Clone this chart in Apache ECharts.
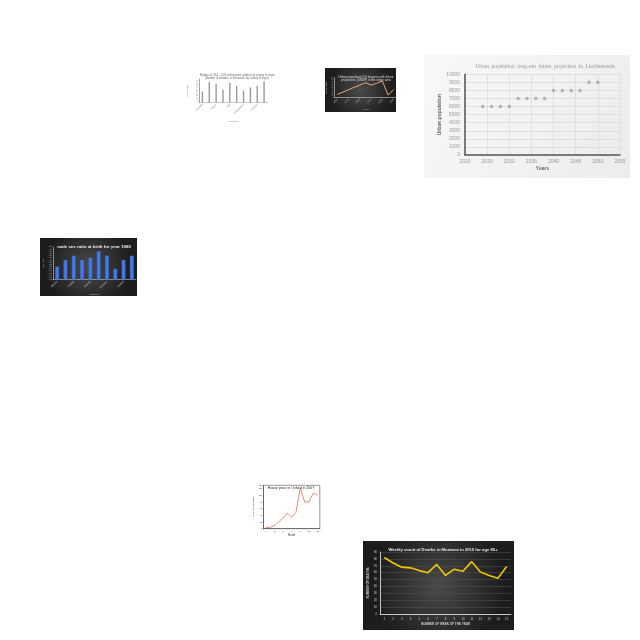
<!DOCTYPE html>
<html><head><meta charset="utf-8">
<script src="https://cdn.jsdelivr.net/npm/echarts@6/dist/echarts.min.js"></script>
<style>html,body{margin:0;padding:0;background:#fff}#c{width:640px;height:640px}</style>
</head><body><div id="c"></div>
<script>
// ---- data ----
const studCountries = ["Australia","Canada","France","Germany","Italy","Japan","Netherlands","Spain","Sweden","USA"];
const studValues = [33, 61, 55, 38, 58, 50, 36, 45, 50, 63];

const urbYearsCat = ["1950","1960","1970","1980","1990","2000","2010","2020","2030","2040","2050"];
const urbGrowth = [17, 28, 40, 52, 63, 75, 63, 72, 83, 13, 40];

const lieYears = [2024,2026,2028,2030,2032,2034,2036,2038,2040,2042,2044,2046,2048,2050];
const liePop = [6000,6000,6000,6000,7000,7000,7000,7000,8000,8000,8000,8000,9000,9000];

const sexCountries = ["Albania","Belgium","Croatia","Denmark","Estonia","Finland","Germany","Hungary","Iceland","Ireland"];
const sexRatio = [1.01,1.04,1.06,1.04,1.05,1.08,1.06,1.00,1.04,1.06];

const houseMonths = ["1","2","3","4","5","6","7","8","9","10","11","12","13"];
const housePrice = [4,4,9,20,32,47,34,49,122,80,80,107,100];

const weeks = ["1","2","3","4","5","6","7","8","9","10","11","12","13","14","15"];
const deaths = [82,74,68,67,63,60,72,56,65,62,76,61,56,52,69];

// ---- chart ----
const chart = echarts.init(document.getElementById('c'), null, {renderer:'canvas'});
const dark = {type:'radial',x:0.5,y:0.5,r:0.75,colorStops:[{offset:0,color:'#4a4a4a'},{offset:1,color:'#1c1c1c'}]};
const tinyLbl = (c,s)=>({color:c,fontSize:s,fontFamily:'Liberation Sans'});
const plain = v=>String(v);

chart.setOption({
  animation:false,
  graphic:[
    {type:'rect',z:-10,shape:{x:325,y:68,width:71,height:44},style:{fill:dark}},
    {type:'rect',z:-10,shape:{x:424,y:55,width:206,height:123},style:{fill:{type:'linear',x:0,y:0,x2:1,y2:1,colorStops:[{offset:0,color:'#f8f8f8'},{offset:1,color:'#ececec'}]}}},
    {type:'rect',z:-10,shape:{x:40,y:238,width:97,height:58},style:{fill:dark}},
    {type:'rect',z:-10,shape:{x:363,y:541,width:151,height:89},style:{fill:dark}}
  ],
  title:[
    {text:'Number of 2015 - 2016 international students by country of origin\n(Number of students, in thousands, by country of origin)',left:232,top:69,textAlign:'center',textStyle:{fontSize:2.6,fontWeight:'normal',color:'#666',lineHeight:3}},
    {text:'Urban population (%) long-run with future\nprojections (UNDP) in the urban area',left:361,top:70,textAlign:'center',textStyle:{fontSize:3,fontWeight:'normal',color:'#ddd',lineHeight:3.4}},
    {text:'Urban  population  long-run  future  projection  in  Liechtenstein',left:540,top:59,textAlign:'center',textStyle:{fontSize:5.4,fontWeight:'normal',color:'#999',fontFamily:'Liberation Serif'}},
    {text:'male sex ratio at birth for year 1980',left:89,top:239.5,textAlign:'center',textStyle:{fontSize:4.4,fontWeight:'bold',color:'#eee'}},
    {text:'House price in Oxford in 2007',left:286,top:481,textAlign:'center',textStyle:{fontSize:3.5,fontWeight:'normal',color:'#222'}},
    {text:'Weekly count of Deaths in Montana in 2015 for age 85+',left:438,top:542.5,textAlign:'center',textStyle:{fontSize:4.2,fontWeight:'bold',color:'#e8e8e8'}}
  ],
  grid:[
    {left:199,top:79,width:68.5,height:23.7},
    {left:334.5,top:77.7,width:62,height:20},
    {left:465,top:74.3,width:155,height:80.7},
    {left:53,top:247,width:83,height:32.7},
    {left:263.5,top:485.3,width:56.3,height:43.4,show:true,borderColor:'#333',borderWidth:0.5},
    {left:380,top:552,width:131,height:62}
  ],
  xAxis:[
    {gridIndex:0,type:'category',data:studCountries,name:'Countries',nameLocation:'middle',nameGap:17,nameTextStyle:tinyLbl('#888',2.5),
      axisLine:{lineStyle:{color:'#999',width:0.5}},axisTick:{show:false},axisLabel:Object.assign(tinyLbl('#888',2.4),{rotate:45,margin:1.5})},
    {gridIndex:1,type:'category',data:urbYearsCat,name:'Years',nameLocation:'middle',nameGap:10,nameTextStyle:tinyLbl('#bbb',2.5),
      axisLine:{lineStyle:{color:'#ccc',width:0.6}},axisTick:{show:false},axisLabel:Object.assign(tinyLbl('#bbb',2.4),{rotate:45,margin:1.5})},
    {gridIndex:2,type:'value',min:2020,max:2055,interval:5,name:'Years',nameLocation:'middle',nameGap:11,nameTextStyle:Object.assign(tinyLbl('#666',5),{fontWeight:'bold'}),
      axisLine:{lineStyle:{color:'#555',width:1.5}},axisTick:{show:false},axisLabel:Object.assign(tinyLbl('#999',5),{margin:4,formatter:plain}),
      splitLine:{show:true,lineStyle:{color:'#d8d8d8',width:0.7}}},
    {gridIndex:3,type:'category',data:sexCountries,name:'countries',nameLocation:'middle',nameGap:12,nameTextStyle:tinyLbl('#bbb',2.5),
      axisLine:{lineStyle:{color:'#ccc',width:0.6}},axisTick:{show:false},axisLabel:Object.assign(tinyLbl('#ccc',2.5),{rotate:45,margin:1.5})},
    {gridIndex:4,type:'category',data:houseMonths,name:'Month',nameLocation:'middle',nameGap:5.5,nameTextStyle:tinyLbl('#333',2.6),
      axisLine:{lineStyle:{color:'#333',width:0.5}},axisTick:{length:1,lineStyle:{color:'#333',width:0.4}},axisLabel:Object.assign(tinyLbl('#333',2.2),{margin:1.5})},
    {gridIndex:5,type:'category',data:weeks,name:'NUMBER OF WEEK OF THE YEAR',nameLocation:'middle',nameGap:9,nameTextStyle:Object.assign(tinyLbl('#ccc',3),{fontWeight:'bold'}),
      axisLine:{lineStyle:{color:'#eee',width:0.8}},axisTick:{show:false},axisLabel:Object.assign(tinyLbl('#ccc',3),{margin:3.5})}
  ],
  yAxis:[
    {gridIndex:0,type:'value',min:0,max:70,interval:5,name:'Thousands',nameLocation:'middle',nameGap:11,nameTextStyle:tinyLbl('#888',2.4),
      axisLine:{show:true,lineStyle:{color:'#666',width:0.6}},axisTick:{show:false},splitLine:{show:false},axisLabel:Object.assign(tinyLbl('#888',1.6),{margin:1})},
    {gridIndex:1,type:'value',min:0,max:100,interval:10,name:'Percentage',nameLocation:'middle',nameGap:7,nameTextStyle:tinyLbl('#bbb',2.4),
      axisLine:{show:true,lineStyle:{color:'#ccc',width:0.6}},axisTick:{show:false},splitLine:{show:false},axisLabel:Object.assign(tinyLbl('#bbb',1.6),{margin:1})},
    {gridIndex:2,type:'value',min:0,max:10000,interval:1000,name:'Urban population',nameLocation:'middle',nameGap:19,nameTextStyle:Object.assign(tinyLbl('#666',5),{fontWeight:'bold'}),
      axisLine:{show:true,lineStyle:{color:'#555',width:1.5}},axisTick:{show:false},axisLabel:Object.assign(tinyLbl('#999',5),{margin:5,formatter:plain}),
      splitLine:{show:true,lineStyle:{color:'#d8d8d8',width:0.7}}},
    {gridIndex:3,type:'value',min:0.95,max:1.10,interval:0.01,name:'sex ratio',nameLocation:'middle',nameGap:9,nameTextStyle:tinyLbl('#bbb',2.4),
      axisLine:{show:true,lineStyle:{color:'#ccc',width:0.6}},axisTick:{show:false},splitLine:{show:false},axisLabel:Object.assign(tinyLbl('#bbb',1.7),{margin:1,formatter:v=>v.toFixed(2)})},
    {gridIndex:4,type:'value',min:0,max:130,interval:20,name:'Price (£ thousands)',nameLocation:'middle',nameGap:5,nameTextStyle:tinyLbl('#333',2.4),
      axisLine:{show:true,lineStyle:{color:'#333',width:0.5}},axisTick:{show:true,length:1,lineStyle:{color:'#333',width:0.4}},splitLine:{show:false},axisLabel:Object.assign(tinyLbl('#333',2),{margin:1.5})},
    {gridIndex:5,type:'value',min:0,max:90,interval:10,name:'NUMBER OF DEATHS',nameLocation:'middle',nameGap:9,nameTextStyle:Object.assign(tinyLbl('#ccc',3),{fontWeight:'bold'}),
      axisLine:{show:true,lineStyle:{color:'#eee',width:0.8}},axisTick:{show:false},axisLabel:Object.assign(tinyLbl('#ccc',3),{margin:3}),
      splitLine:{show:true,lineStyle:{color:'#555',width:0.5}}}
  ],
  series:[
    {type:'bar',xAxisIndex:0,yAxisIndex:0,data:studValues,barWidth:1.4,itemStyle:{color:'#9a9a9a'}},
    {type:'line',xAxisIndex:1,yAxisIndex:1,data:urbGrowth,symbol:'none',lineStyle:{color:'#f0a27a',width:1}},
    {type:'scatter',xAxisIndex:2,yAxisIndex:2,data:lieYears.map((y,i)=>[y,liePop[i]]),symbolSize:3.5,itemStyle:{color:'#a0a0a0'}},
    {type:'bar',xAxisIndex:3,yAxisIndex:3,data:sexRatio,barWidth:4,itemStyle:{color:{type:'linear',x:0,y:0,x2:1,y2:0,colorStops:[{offset:0,color:'#2f5fc4'},{offset:0.5,color:'#4d82ee'},{offset:1,color:'#2f5fc4'}]}}},
    {type:'line',xAxisIndex:4,yAxisIndex:4,data:housePrice,symbol:'none',lineStyle:{color:'#e06f5c',width:0.8}},
    {type:'line',xAxisIndex:5,yAxisIndex:5,data:deaths,symbol:'none',lineStyle:{color:'#f2c500',width:1.6}}
  ]
});
</script></body></html>
